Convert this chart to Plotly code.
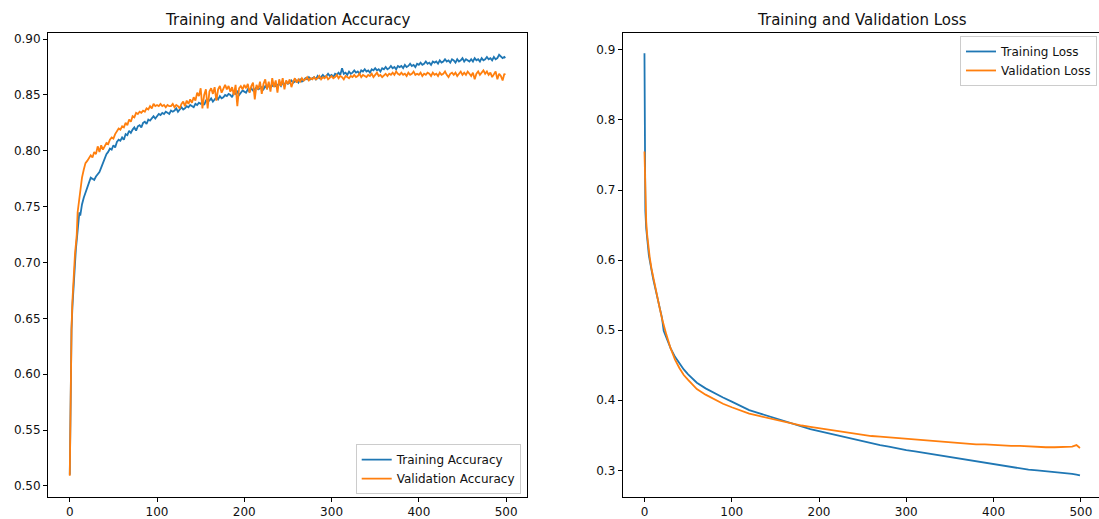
import plotly.graph_objects as go

# ---------------- data ----------------
acc_epochs = list(range(0, 15)) + [16, 18] + list(range(20, 499, 2)) + [499]

train_acc = [0.510, 0.605, 0.640, 0.660, 0.675, 0.690, 0.700, 0.712, 0.720, 0.727, 0.735, 0.745, 0.742, 0.748, 0.752, 0.758, 0.763,
             0.768, 0.772, 0.776, 0.775, 0.774, 0.777, 0.779, 0.781, 0.785, 0.789,
             0.793, 0.797, 0.799, 0.802, 0.801, 0.805, 0.803, 0.808, 0.810, 0.809,
             0.812, 0.810, 0.815, 0.814, 0.818, 0.816, 0.819, 0.821, 0.818, 0.822,
             0.823, 0.821, 0.825, 0.826, 0.824, 0.828, 0.827, 0.829, 0.831, 0.829,
             0.831, 0.833, 0.832, 0.834, 0.833, 0.835, 0.834, 0.833, 0.836, 0.835,
             0.836, 0.838, 0.835, 0.837, 0.839, 0.837, 0.838, 0.840, 0.839, 0.841,
             0.840, 0.839, 0.842, 0.841, 0.843, 0.842, 0.844, 0.841, 0.845, 0.844,
             0.845, 0.847, 0.844, 0.846, 0.848, 0.846, 0.849, 0.847, 0.848, 0.850,
             0.849, 0.851, 0.850, 0.848, 0.852, 0.851, 0.853, 0.850, 0.852, 0.854,
             0.853, 0.852, 0.855, 0.853, 0.856, 0.854, 0.855, 0.857, 0.855, 0.856,
             0.857, 0.855, 0.858, 0.856, 0.859, 0.857, 0.858, 0.860, 0.858, 0.859,
             0.860, 0.858, 0.861, 0.859, 0.862, 0.860, 0.861, 0.863, 0.861, 0.862,
             0.863, 0.861, 0.864, 0.862, 0.863, 0.865, 0.864, 0.866, 0.864, 0.865,
             0.866, 0.864, 0.867, 0.865, 0.866, 0.868, 0.866, 0.867, 0.869, 0.867,
             0.868, 0.866, 0.869, 0.868, 0.870, 0.868, 0.874, 0.869, 0.870, 0.868,
             0.871, 0.869, 0.870, 0.872, 0.870, 0.871, 0.869, 0.872, 0.871, 0.873,
             0.871, 0.872, 0.870, 0.873, 0.872, 0.874, 0.872, 0.873, 0.871, 0.874,
             0.873, 0.875, 0.873, 0.874, 0.876, 0.874, 0.875, 0.873, 0.876, 0.875,
             0.876, 0.874, 0.877, 0.875, 0.876, 0.878, 0.876, 0.877, 0.875, 0.878,
             0.877, 0.879, 0.877, 0.878, 0.880, 0.878, 0.879, 0.877, 0.880, 0.879,
             0.880, 0.878, 0.881, 0.879, 0.880, 0.882, 0.880, 0.881, 0.879, 0.882,
             0.881, 0.879, 0.882, 0.880, 0.881, 0.883, 0.880, 0.882, 0.881, 0.880,
             0.882, 0.880, 0.883, 0.881, 0.882, 0.880, 0.883, 0.881, 0.882, 0.884,
             0.882, 0.883, 0.881, 0.884, 0.882, 0.883, 0.886, 0.884, 0.883, 0.884,
             0.883]

val_acc = [0.509, 0.590, 0.640, 0.665, 0.685, 0.698, 0.708, 0.716, 0.725, 0.745, 0.752, 0.760, 0.767, 0.772, 0.776, 0.783, 0.789,
           0.791, 0.794, 0.796, 0.794, 0.799, 0.797, 0.804, 0.799, 0.805, 0.801,
           0.804, 0.807, 0.806, 0.810, 0.812, 0.811, 0.815, 0.817, 0.820, 0.819,
           0.822, 0.821, 0.825, 0.823, 0.828, 0.826, 0.831, 0.830, 0.834, 0.833,
           0.835, 0.834, 0.836, 0.835, 0.838, 0.837, 0.840, 0.838, 0.842, 0.840,
           0.841, 0.840, 0.842, 0.840, 0.841, 0.839, 0.841, 0.840, 0.840, 0.842,
           0.839, 0.841, 0.840, 0.838, 0.842, 0.844, 0.840, 0.845, 0.842, 0.846,
           0.843, 0.848, 0.845, 0.852, 0.849, 0.856, 0.838, 0.850, 0.855, 0.838,
           0.853, 0.856, 0.851, 0.857, 0.845, 0.855, 0.858, 0.852, 0.856, 0.859,
           0.855, 0.858, 0.853, 0.857, 0.850, 0.859, 0.840, 0.856, 0.858, 0.855,
           0.859, 0.856, 0.860, 0.852, 0.858, 0.861, 0.846, 0.859, 0.855, 0.862,
           0.851, 0.860, 0.864, 0.855, 0.862, 0.853, 0.865, 0.857, 0.863, 0.852,
           0.864, 0.858, 0.865, 0.855, 0.863, 0.860, 0.864, 0.857, 0.862, 0.865,
           0.861, 0.864, 0.862, 0.865, 0.863, 0.864, 0.866, 0.863, 0.865, 0.864,
           0.866, 0.864, 0.865, 0.867, 0.864, 0.866, 0.865, 0.867, 0.864, 0.866,
           0.867, 0.865, 0.866, 0.868, 0.865, 0.867, 0.866, 0.864, 0.867, 0.866,
           0.865, 0.867, 0.866, 0.868, 0.866, 0.867, 0.869, 0.866, 0.868, 0.867,
           0.866, 0.868, 0.867, 0.869, 0.866, 0.868, 0.870, 0.867, 0.868, 0.866,
           0.868, 0.869, 0.867, 0.869, 0.868, 0.870, 0.868, 0.871, 0.869, 0.868,
           0.870, 0.868, 0.869, 0.867, 0.870, 0.868, 0.869, 0.871, 0.868, 0.869,
           0.868, 0.870, 0.867, 0.869, 0.868, 0.870, 0.869, 0.867, 0.870, 0.868,
           0.869, 0.867, 0.870, 0.868, 0.869, 0.871, 0.868, 0.866, 0.869, 0.870,
           0.868, 0.870, 0.867, 0.869, 0.871, 0.868, 0.870, 0.868, 0.871, 0.869,
           0.867, 0.870, 0.864, 0.869, 0.871, 0.868, 0.870, 0.872, 0.869, 0.871,
           0.868, 0.870, 0.866, 0.869, 0.871, 0.864, 0.869, 0.867, 0.863, 0.869,
           0.868]

loss_epochs = [0, 1, 2, 3, 4, 5, 6, 8, 10, 12, 14, 17, 20, 22, 25, 30, 35, 40, 45, 50, 55, 60] + list(range(70, 491, 10)) + [495, 499]

train_loss = [0.895, 0.670, 0.645, 0.628, 0.616, 0.607, 0.600, 0.585, 0.573, 0.562, 0.550, 0.535, 0.518, 0.499, 0.490, 0.474, 0.462, 0.452, 0.444, 0.437, 0.431, 0.425,
              0.417, 0.410, 0.404, 0.398, 0.392, 0.386, 0.382, 0.378, 0.374, 0.370,
              0.366, 0.363, 0.359, 0.356, 0.353, 0.350, 0.347, 0.344, 0.341, 0.338,
              0.336, 0.334, 0.331, 0.329, 0.327, 0.325, 0.322, 0.320, 0.318, 0.316,
              0.314, 0.312, 0.310, 0.308, 0.306, 0.305, 0.303, 0.301, 0.300, 0.299,
              0.297, 0.296, 0.295, 0.294, 0.293]

val_loss = [0.755, 0.690, 0.655, 0.637, 0.622, 0.612, 0.604, 0.588, 0.575, 0.562, 0.551, 0.534, 0.517, 0.507, 0.494, 0.474, 0.458, 0.446, 0.436, 0.429, 0.422, 0.416,
            0.408, 0.401, 0.395, 0.390, 0.385, 0.381, 0.378, 0.375, 0.372, 0.369,
            0.367, 0.364, 0.362, 0.360, 0.358, 0.356, 0.354, 0.352, 0.351, 0.349,
            0.348, 0.347, 0.346, 0.344, 0.343, 0.342, 0.341, 0.340, 0.340, 0.339,
            0.338, 0.337, 0.337, 0.336, 0.336, 0.335, 0.335, 0.334, 0.334, 0.333,
            0.333, 0.333, 0.334, 0.336, 0.332]

acc_ticks = [0.50, 0.55, 0.60, 0.65, 0.70, 0.75, 0.80, 0.85, 0.90]
loss_ticks = [0.3, 0.4, 0.5, 0.6, 0.7, 0.8, 0.9]
epoch_ticks = [0, 100, 200, 300, 400, 500]

# ---------------- style ----------------
BLUE = "#1f77b4"
ORANGE = "#ff7f0e"
FONT = "DejaVu Sans"
TXT = "#111111"
LW = 1.8

fig = go.Figure()
fig.add_trace(go.Scatter(x=acc_epochs, y=train_acc, mode="lines", name="Training Accuracy",
                         line=dict(color=BLUE, width=LW), xaxis="x", yaxis="y", legend="legend"))
fig.add_trace(go.Scatter(x=acc_epochs, y=val_acc, mode="lines", name="Validation Accuracy",
                         line=dict(color=ORANGE, width=LW), xaxis="x", yaxis="y", legend="legend"))
fig.add_trace(go.Scatter(x=loss_epochs, y=train_loss, mode="lines", name="Training Loss",
                         line=dict(color=BLUE, width=LW), xaxis="x2", yaxis="y2", legend="legend2"))
fig.add_trace(go.Scatter(x=loss_epochs, y=val_loss, mode="lines", name="Validation Loss",
                         line=dict(color=ORANGE, width=LW), xaxis="x2", yaxis="y2", legend="legend2"))

L, R, T, B = 48, 0, 33, 18
W, H = 1099, 519
pw = W - L - R
ph = H - T - B

left_dom = [0, 479 / pw]
right_dom = [(622.7 - L) / pw, 1]

axis_common = dict(showline=True, linecolor="black", linewidth=1, ticks="outside", ticklen=4,
                   tickwidth=1, tickcolor="black", showgrid=False, zeroline=False,
                   tickfont=dict(family=FONT, size=12, color=TXT))

legend_common = dict(bgcolor="rgba(255,255,255,0.8)", bordercolor="#cccccc", borderwidth=1,
                     font=dict(family=FONT, size=12, color=TXT), itemwidth=30, tracegroupgap=0)

fig.update_layout(
    width=W, height=H,
    margin=dict(l=L, r=R, t=T, b=B, pad=0),
    paper_bgcolor="white", plot_bgcolor="white",
    font=dict(family=FONT, size=12, color=TXT),
    xaxis=dict(domain=left_dom, range=[-24.95, 523.95], tickvals=epoch_ticks, mirror=True, anchor="y", **axis_common),
    yaxis=dict(domain=[0, 1], range=[0.4900, 0.9055], tickvals=acc_ticks, tickformat=".2f", mirror=True, anchor="x", **axis_common),
    xaxis2=dict(domain=right_dom, range=[-24.95, 520.8], tickvals=epoch_ticks, mirror=True, anchor="y2", **axis_common),
    yaxis2=dict(domain=[0, 1], range=[0.262, 0.924], tickvals=loss_ticks, tickformat=".1f", mirror=False, anchor="x2", **axis_common),
    legend=dict(x=(520.7 - L) / pw, y=(H - B - 498) / ph, xanchor="right", yanchor="bottom", **legend_common),
    legend2=dict(x=(1097 - L) / pw, y=(H - B - 36) / ph, xanchor="right", yanchor="top", **legend_common),
    showlegend=True,
    annotations=[
        dict(text="Training and Validation Accuracy", xref="paper", yref="paper",
             x=(left_dom[0] + left_dom[1]) / 2, y=1 + (T - 19.5) / ph, xanchor="center", yanchor="middle",
             showarrow=False, font=dict(family=FONT, size=15, color=TXT)),
        dict(text="Training and Validation Loss", xref="paper", yref="paper",
             x=((622.7 - L) / pw + (1101.7 - L) / pw) / 2, y=1 + (T - 19.5) / ph, xanchor="center", yanchor="middle",
             showarrow=False, font=dict(family=FONT, size=15, color=TXT)),
    ],
)

fig.write_html("out.html")
